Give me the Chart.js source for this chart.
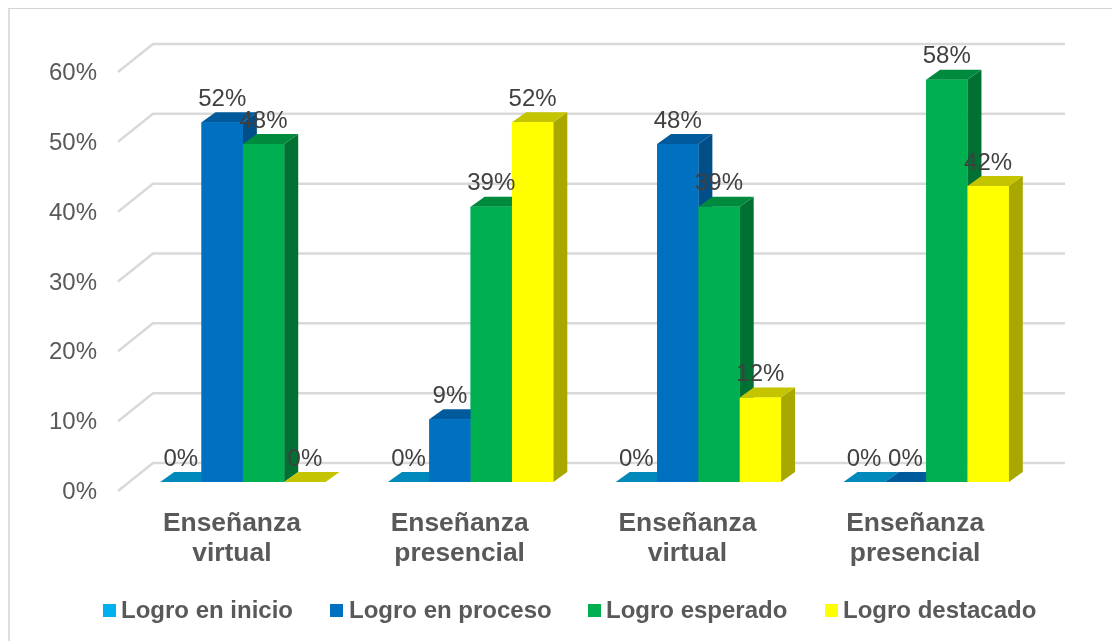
<!DOCTYPE html>
<html>
<head>
<meta charset="utf-8">
<style>
  html, body { margin: 0; padding: 0; background: #fff; }
  #wrap { position: absolute; left: 0; top: 0; width: 1112px; height: 641px; }
  #frame { position: absolute; left: 8px; top: 8px; right: 0; bottom: 0; border-left: 2px solid #dedede; border-top: 1px solid #d4d4d4; }
</style>
<script src="https://cdn.jsdelivr.net/npm/chart.js@4"></script>
</head>
<body>
<div id="wrap">
  <div id="frame"></div>
  <canvas id="chart" width="1112" height="641" style="position:absolute;left:0;top:0"></canvas>
</div>
<script>
const categories = [
  ["Enseñanza", "virtual"],
  ["Enseñanza", "presencial"],
  ["Enseñanza", "virtual"],
  ["Enseñanza", "presencial"]
];
const seriesNames = ["Logro en inicio", "Logro en proceso", "Logro esperado", "Logro destacado"];
const logroInicio = [0, 0, 0, 0];
const logroProceso = [51.5, 9, 48.4, 0];
const logroEsperado = [48.4, 39.4, 39.4, 57.6];
const logroDestacado = [0, 51.5, 12.1, 42.4];

const fronts = ["#00B0F0", "#0070C0", "#00B050", "#FFFF00"];
const tops = ["#0089BA", "#005A9C", "#008A3E", "#C4C400"];
const sides = ["#00739E", "#004F88", "#007033", "#A8A800"];

const DEPTH_X = 14, DEPTH_Y = 10;

// back wall lines with the slanted piece going to the front left
const gridPlugin = {
  id: "grid3d",
  beforeDatasetsDraw(chart) {
    const c = chart.ctx, y = chart.scales.y;
    c.save();
    c.strokeStyle = "#d9d9d9";
    c.lineWidth = 2.5;
    y.ticks.forEach((t, i) => {
      const py = y.getPixelForTick(i);
      c.beginPath();
      c.moveTo(118, py + 9);
      c.lineTo(153, py - 19);
      c.lineTo(1065, py - 19);
      c.stroke();
    });
    c.restore();
  }
};

// side and top face of every bar, then the bar again so the order is left to right
const barsPlugin = {
  id: "bars3d",
  afterDatasetsDraw(chart) {
    const c = chart.ctx;
    for (let g = 0; g < categories.length; g++) {
      chart.data.datasets.forEach((ds, d) => {
        const el = chart.getDatasetMeta(d).data[g];
        const half = el.width / 2;
        const l = el.x - half, r = el.x + half;
        c.fillStyle = sides[d];
        c.beginPath();
        c.moveTo(r, el.y);
        c.lineTo(r + DEPTH_X, el.y - DEPTH_Y);
        c.lineTo(r + DEPTH_X, el.base - DEPTH_Y);
        c.lineTo(r, el.base);
        c.closePath();
        c.fill();
        c.fillStyle = tops[d];
        c.beginPath();
        c.moveTo(l, el.y);
        c.lineTo(l + DEPTH_X, el.y - DEPTH_Y);
        c.lineTo(r + DEPTH_X, el.y - DEPTH_Y);
        c.lineTo(r, el.y);
        c.closePath();
        c.fill();
        el.draw(c);
      });
    }
    // value labels go over all the bars
    c.save();
    c.font = "24px 'Liberation Sans'";
    c.fillStyle = "#404040";
    c.textAlign = "center";
    c.textBaseline = "middle";
    chart.data.datasets.forEach((ds, d) => {
      chart.getDatasetMeta(d).data.forEach((el, g) => {
        c.fillText(Math.round(ds.data[g]) + "%", el.x, el.y - 23);
      });
    });
    c.restore();
  }
};

// legend by hand, the built in one keeps too wide a gap after the box
const legendPlugin = {
  id: "legendRow",
  afterDraw(chart) {
    const c = chart.ctx;
    const boxes = [103, 330, 588, 825];
    const texts = [121, 349, 606, 843];
    c.save();
    c.font = "bold 24px 'Liberation Sans'";
    c.textBaseline = "middle";
    seriesNames.forEach((name, i) => {
      c.fillStyle = fronts[i];
      c.fillRect(boxes[i], 604, 13, 13);
      c.fillStyle = "#595959";
      c.fillText(name, texts[i], 611);
    });
    c.restore();
  }
};

new Chart(document.getElementById("chart"), {
  type: "bar",
  data: {
    labels: categories,
    datasets: [
      { label: seriesNames[0], data: logroInicio, backgroundColor: fronts[0] },
      { label: seriesNames[1], data: logroProceso, backgroundColor: fronts[1] },
      { label: seriesNames[2], data: logroEsperado, backgroundColor: fronts[2] },
      { label: seriesNames[3], data: logroDestacado, backgroundColor: fronts[3] }
    ]
  },
  options: {
    responsive: false,
    animation: false,
    events: [],
    layout: { padding: { left: 0, right: 72, top: 63, bottom: 0 } },
    datasets: { bar: { categoryPercentage: 0.726, barPercentage: 1 } },
    plugins: { legend: { display: false }, tooltip: { enabled: false } },
    scales: {
      x: {
        grid: { display: false },
        border: { display: false },
        afterFit(s) { s.height = 159; },
        ticks: {
          maxRotation: 0,
          autoSkip: false,
          labelOffset: -11,
          padding: 19,
          color: "#595959",
          font: { family: "'Liberation Sans'", size: 26.4, weight: "bold", lineHeight: 1.14 }
        }
      },
      y: {
        min: 0,
        max: 60,
        grid: { display: false },
        border: { display: false },
        afterFit(s) { s.width = 129; },
        ticks: {
          stepSize: 10,
          padding: 24,
          labelOffset: 10.5,
          color: "#595959",
          font: { family: "'Liberation Sans'", size: 24 },
          callback: v => v + "%"
        }
      }
    }
  },
  plugins: [gridPlugin, barsPlugin, legendPlugin]
});
</script>
</body>
</html>
